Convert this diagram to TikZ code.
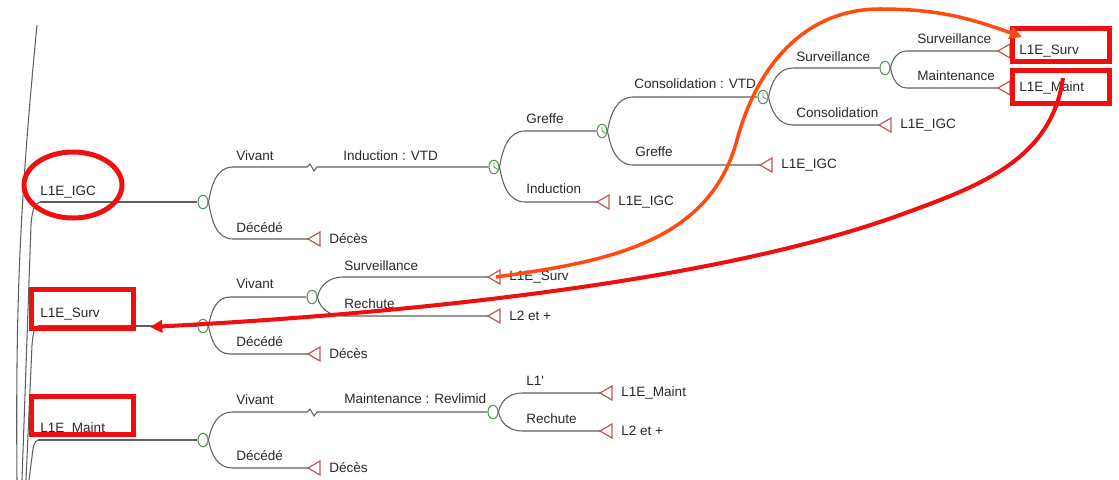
\documentclass[tikz,border=0pt]{standalone}
\usepackage{fontspec}
\setmainfont{Liberation Sans}
\usetikzlibrary{arrows.meta, shapes.geometric, calc}

\definecolor{treegray}{RGB}{95,95,95}
\definecolor{txtgray}{RGB}{40,40,40}
\definecolor{chancegreen}{RGB}{80,150,80}
\definecolor{termred}{RGB}{195,90,90}
\definecolor{markred}{RGB}{240,15,15}
\definecolor{markorange}{RGB}{255,75,15}

\begin{document}
\begin{tikzpicture}[x=0.02cm, y=0.02cm,
  every node/.style={font=\fontsize{7.7}{9}\selectfont, text=txtgray},
  treeline/.style={draw=treegray, line width=0.6pt},
  chance/.style={draw=chancegreen, ellipse, line width=0.6pt, inner sep=0pt,
    minimum width=0.2cm, minimum height=0.27cm},
  markov/.style={chance, path picture={
    \draw[chancegreen, line width=0.5pt] (path picture bounding box.center) -- ++(0pt,2.6pt)
      (path picture bounding box.center) -- ++(2pt,-1.3pt);}},
  termtri/.style={draw=termred, line width=0.7pt},
  lbl/.style={inner sep=0pt, anchor=base west},
  tlbl/.style={inner sep=0pt, anchor=west},
  redbox/.style={draw=markred, line width=2.85pt},
  redarrow/.style={draw=markred, line width=2.3pt, -{Triangle[length=7pt,width=7pt]}},
  orangearrow/.style={draw=markorange, line width=2pt, -{Triangle[length=7pt,width=7pt]}}]

  \useasboundingbox (0,0) rectangle (1119,-480);

  % Root branches at the left edge
  \coordinate (root1) at (40,-202);
  \coordinate (root2) at (38,-326);
  \coordinate (root3) at (38,-440);
  \draw[treeline] (37,-25) to[bend right=3] (17,-480);
  \draw[treeline] (root1) .. controls (34,-203) and (32,-212) .. (31,-225) -- (22,-480);
  \draw[treeline] (root2) .. controls (34,-327) and (33,-334) .. (32,-345) -- (26,-480);
  \draw[treeline] (root3) .. controls (34,-441) and (33,-448) .. (32,-457) -- (29,-480);

  % State labels
  \node[lbl] (s1) at (40,-195) {L1E\_IGC};
  \node[lbl] (s2) at (40,-317) {L1E\_Surv};
  \node[lbl] (s3) at (40,-432) {L1E\_Maint};

  % Chance nodes
  \node[chance] (c1) at (203,-202) {};
  \node[markov] (c2) at (494,-167) {};
  \node[markov] (c3) at (602,-131) {};
  \node[markov] (c4) at (763,-97) {};
  \node[chance] (c5) at (885,-68) {};
  \node[chance] (c6) at (203,-326) {};
  \node[chance] (c7) at (312,-297) {};
  \node[chance] (c8) at (203,-440) {};
  \node[chance] (c9) at (493,-412) {};

  % Terminal nodes (tip of the triangle) and their labels
  \foreach \n/\x/\y/\txt in {t1/308/-239/Décès, t2/597/-202/L1E\_IGC, t3/760/-165/L1E\_IGC,
      t4/879/-125/L1E\_IGC, t5/998/-51/L1E\_Surv, t6/998/-88/L1E\_Maint,
      t7/488/-277/L1E\_Surv, t8/488/-316/L2 et +, t9/308/-354/Décès,
      t10/600/-393/L1E\_Maint, t11/600/-431/L2 et +, t12/308/-468/Décès} {
    \coordinate (\n) at (\x,\y);
    \draw[termtri] (\n) -- ++(12,7) -- ++(0,-14) -- cycle;
    \node[tlbl] (\n-l) at (\x+21,\y) {\txt};
  }

  % Lines from the states to the first chance nodes
  \draw[treeline] (root1) -- (c1.west);
  \draw[treeline] (root2) -- (c6.west);
  \draw[treeline] (root3) -- (c8.west);

  % Tree of L1E_IGC
  \draw[treeline] (c1.east) to[out=80,in=180] (233,-167) -- (307,-167) -- (310,-164)
    -- (314,-171) -- (317,-167) -- (c2.west);
  \draw[treeline] (c1.east) to[out=-80,in=180] (233,-239) -- (t1);
  \draw[treeline] (c2.east) to[out=80,in=180] (525,-131) -- (c3.west);
  \draw[treeline] (c2.east) to[out=-80,in=180] (525,-202) -- (t2);
  \draw[treeline] (c3.east) to[out=80,in=180] (633,-97) -- (c4.west);
  \draw[treeline] (c3.east) to[out=-80,in=180] (633,-165) -- (t3);
  \draw[treeline] (c4.east) to[out=80,in=180] (793,-68) -- (c5.west);
  \draw[treeline] (c4.east) to[out=-80,in=180] (793,-125) -- (t4);
  \draw[treeline] (c5.east) to[out=80,in=180] (907,-51) -- (t5);
  \draw[treeline] (c5.east) to[out=-80,in=180] (907,-88) -- (t6);
  \node[lbl] at (236,-160) {Vivant};
  \node[lbl] at (343,-160) {Induction : VTD};
  \node[lbl] at (236,-232) {Décédé};
  \node[lbl] at (526,-123) {Greffe};
  \node[lbl] at (526,-193) {Induction};
  \node[lbl] at (634,-88) {Consolidation : VTD};
  \node[lbl] at (635,-156) {Greffe};
  \node[lbl] at (796,-61) {Surveillance};
  \node[lbl] at (796,-117) {Consolidation};
  \node[lbl] at (917,-43) {Surveillance};
  \node[lbl] at (917,-80) {Maintenance};

  % Tree of L1E_Surv
  \draw[treeline] (c6.east) to[out=80,in=180] (230,-297) -- (c7.west);
  \draw[treeline] (c6.east) to[out=-80,in=180] (230,-354) -- (t9);
  \draw[treeline] (c7.east) to[out=80,in=180] (343,-277) -- (t7);
  \draw[treeline] (c7.east) to[out=-80,in=180] (343,-316) -- (t8);
  \node[lbl] at (236,-288) {Vivant};
  \node[lbl] at (236,-346) {Décédé};
  \node[lbl] at (344,-270) {Surveillance};
  \node[lbl] at (344,-308) {Rechute};

  % Tree of L1E_Maint
  \draw[treeline] (c8.east) to[out=80,in=180] (232,-412) -- (307,-412) -- (310,-409)
    -- (314,-416) -- (317,-412) -- (c9.west);
  \draw[treeline] (c8.east) to[out=-80,in=180] (232,-468) -- (t12);
  \draw[treeline] (c9.east) to[out=80,in=180] (522,-393) -- (t10);
  \draw[treeline] (c9.east) to[out=-80,in=180] (522,-431) -- (t11);
  \node[lbl] at (236,-404) {Vivant};
  \node[lbl] at (344,-403) {Maintenance : Revlimid};
  \node[lbl] at (236,-460) {Décédé};
  \node[lbl] at (526,-385) {L1\textquotesingle};
  \node[lbl] at (526,-423) {Rechute};

  % Red marks
  \draw[redbox] (73,-185) ellipse [x radius=0.98cm, y radius=0.66cm];
  \draw[redbox] (31.5,-289.5) rectangle (133.5,-328.5);
  \draw[redbox] (31.5,-396.5) rectangle (133.5,-434.5);
  \draw[redbox] (1012.5,-28.5) rectangle (1109.5,-61.5);
  \draw[redbox] (1012.5,-70.5) rectangle (1109.5,-103.5);

  % Arrows between the states
  \coordinate (survtop) at (1022,-37);
  \coordinate (maintfrom) at (1063,-78);
  \coordinate (survleft) at (150,-327);
  \draw[orangearrow] ([xshift=0.16cm]t7) to[out=8,in=255] (737,-140)
    to[out=75,in=180] (880,-9) to[out=0,in=160] (survtop);
  \draw[redarrow] (maintfrom) to[out=262,in=20] (900,-215)
    .. controls (712,-283) and (400,-314) .. (survleft);

\end{tikzpicture}
\end{document}
